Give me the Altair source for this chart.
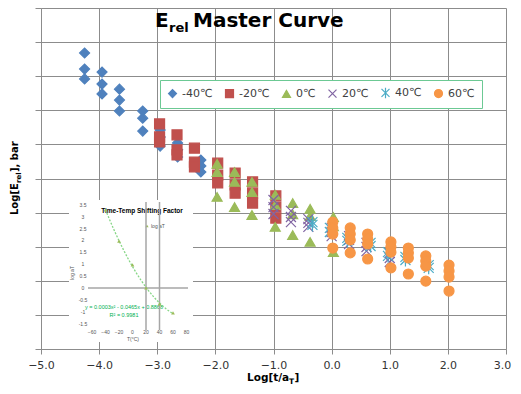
import altair as alt
import pandas as pd

# ---------------- data ----------------
SERIES = ["-40℃", "-20℃", "0℃", "20℃", "40℃", "60℃"]
COLORS = ["#4F81BD", "#C0504D", "#9BBB59", "#8064A2", "#4BACC6", "#F79646"]
X_PATH = "M-1,-1L1,1M-1,1L1,-1"
AST_PATH = "M-1,-1L1,1M-1,1L1,-1M0,-1.3L0,1.3"
SHAPES = ["diamond", "square", "triangle-up", X_PATH, AST_PATH, "circle"]

M40_X = [-4.25, -3.95, -3.65, -3.25, -2.95, -2.65, -2.25]
M40_Y = [[8.68, 8.21, 7.92], [8.12, 7.77, 7.48], [7.62, 7.30, 6.98], [6.98, 6.77, 6.39],
         [6.42, 6.22, 5.95], [6.04, 5.84, 5.63], [5.54, 5.37, 5.19]]
M20_X = [-2.96, -2.66, -2.36, -1.96, -1.66, -1.36, -0.96]
M20_Y = [[6.60, 6.22, 6.07], [6.28, 5.84, 5.69], [5.89, 5.48, 5.34], [5.45, 5.10, 4.87],
         [5.16, 4.81, 4.57], [4.90, 4.57, 4.28], [4.49, 4.16, 3.84]]
P0_X = [-1.97, -1.67, -1.37, -0.97, -0.67, -0.37, 0.03]
P0_Y = [[5.43, 5.19, 4.46], [5.19, 4.90, 4.16], [4.90, 4.60, 3.93], [4.52, 4.22, 3.58],
        [4.28, 3.95, 3.34], [4.11, 3.90, 3.14], [3.87, 3.60, 2.84]]
P20_X = [-1.0, -0.7, -0.4, 0.0, 0.3, 0.6, 1.0]
P20_Y = [[4.37, 4.16, 3.96], [4.05, 3.87, 3.72], [3.81, 3.70, 3.58], [3.55, 3.43, 3.31],
         [3.31, 3.20, 3.08], [3.11, 2.99, 2.87], [2.82, 2.67, 2.55]]
P40_X = [-0.33, -0.03, 0.27, 0.67, 0.97, 1.27, 1.67]
P40_Y = [[3.72, 3.64], [3.55, 3.43], [3.26, 3.17], [3.11, 3.02], [2.84, 2.73],
         [2.70, 2.61], [2.46, 2.38]]
P60_X = [0.02, 0.32, 0.62, 1.02, 1.32, 1.62, 2.02]
P60_Y = [[3.72, 3.55, 3.37, 2.96], [3.55, 3.37, 3.20, 2.82], [3.37, 3.23, 3.08, 2.64],
         [3.14, 2.99, 2.84, 2.38], [2.96, 2.82, 2.67, 2.20], [2.73, 2.58, 2.43, 1.99],
         [2.46, 2.29, 2.11, 1.70]]

X_TICKS = [-5, -4, -3, -2, -1, 0, 1, 2, 3]
Y_TICKS = list(range(0, 11))

# inset: time-temperature shift factor
INSET_T = [-40, -20, 0, 20, 40, 60]
INSET_LOGAT = [3.28, 1.97, 0.97, 0.0, -0.67, -1.05]
INSET_YTICKS = [3.5, 3.0, 2.5, 2.0, 1.5, 1.0, 0.5, 0.0, -0.5, -1.0, -1.5]
INSET_YLABELS = ["3.5", "3", "2.5", "2", "1.5", "1", "0.5", "0", "-0.5", "-1", "-1.5"]
INSET_XTICKS = [-60, -40, -20, 0, 20, 40, 60, 80]
INSET_VLINES = [20, 40]

# ---------------- build tables ----------------
rows = []
for name, xs, ys in zip(SERIES, [M40_X, M20_X, P0_X, P20_X, P40_X, P60_X],
                        [M40_Y, M20_Y, P0_Y, P20_Y, P40_Y, P60_Y]):
    for xv, yl in zip(xs, ys):
        for yv in yl:
            rows.append({"series": name, "x": xv, "y": yv})
main_df = pd.DataFrame(rows)
inset_df = pd.DataFrame({"T": INSET_T, "logaT": INSET_LOGAT})
one = pd.DataFrame({"a": [0]})

FONT = "DejaVu Sans"
GRID = "#8c8c8c"

xs_main = alt.Scale(domain=[-5, 3], nice=False)
ys_main = alt.Scale(domain=[0, 10], nice=False)

points = alt.Chart(main_df).mark_point(filled=True, size=100, strokeWidth=1.2, opacity=1).encode(
    x=alt.X("x:Q", scale=xs_main,
            axis=alt.Axis(values=X_TICKS, format=".1f", grid=True, gridColor=GRID, gridWidth=1,
                          domainColor=GRID, tickColor=GRID, tickSize=5, labelFont=FONT,
                          labelFontSize=11, labelColor="#333333", labelPadding=5,
                          labelFlush=False, title=None,
                          labelOffset={"condition": {"test": "datum.value == 3", "value": -4},
                                       "value": 0})),
    y=alt.Y("y:Q", scale=ys_main,
            axis=alt.Axis(values=Y_TICKS, labels=False, grid=True, gridColor=GRID, gridWidth=1,
                          domainColor=GRID, tickColor=GRID, tickSize=6, title=None)),
    fill=alt.Fill("series:N", scale=alt.Scale(domain=SERIES, range=COLORS),
                  legend=alt.Legend(title=None, orient="none", legendX=119, legendY=72,
                                    direction="horizontal", strokeColor="#6cc994",
                                    fillColor="white", padding=7, symbolSize=64,
                                    labelFont=FONT, labelFontSize=11, labelColor="#404040",
                                    columnPadding=10, labelOffset=4, symbolStrokeWidth=1.2)),
    stroke=alt.Stroke("series:N", scale=alt.Scale(domain=SERIES, range=COLORS)),
    shape=alt.Shape("series:N", scale=alt.Scale(domain=SERIES, range=SHAPES)),
)

white_box = alt.Chart(one).mark_rect(color="white").encode(
    x=alt.value(28), x2=alt.value(152), y=alt.value(192), y2=alt.value(334))

def txt(s, x, y, size, weight="normal", color="black", font=FONT, align="left", angle=0):
    kw = dict(text=s, fontSize=size, fontWeight=weight, color=color, font=font,
              align=align, baseline="alphabetic")
    if angle:
        kw["angle"] = angle
    return alt.Chart(one).mark_text(**kw).encode(x=alt.value(x), y=alt.value(y))

titles = [
    txt("E", 114, 19, 20, "bold"),
    txt("rel", 128, 24, 13, "bold"),
    txt("Master Curve", 152, 19, 20, "bold"),
    txt("Log[t/a", 206, 373, 10.5, "bold"),
    txt("T", 248, 376, 7.5, "bold"),
    txt("]", 253.5, 373, 10.5, "bold"),
    txt("Log[E", -23, 207, 10, "bold", angle=270),
    txt("rel", -20, 175, 7, "bold", angle=270),
    txt("],  bar", -23, 164, 10, "bold", angle=270),
    # inset decorations
    txt("Time-Temp Shifting Factor", 101, 205, 6.5, "bold", font="Liberation Sans", align="center"),
    txt("y = 0.0003x² - 0.0465x + 0.8868", 83, 301, 5.5, color="#00B050",
        font="Liberation Sans", align="center"),
    txt("R² = 0.9981", 83, 309, 5.5, color="#00B050", font="Liberation Sans", align="center"),
    txt("log aT", 110, 220, 5, color="#555555", font="Liberation Sans"),
    txt("log aT", 33, 265, 5, color="#555555", font="Liberation Sans", align="center", angle=270),
    txt("T(°C)", 92, 333, 5, color="#555555", font="Liberation Sans", align="center"),
]
inset_leg_marker = alt.Chart(one).mark_point(shape="triangle-up", filled=True, size=10,
                                             color="#9BBB59", opacity=1).encode(
    x=alt.value(106), y=alt.value(218))

main = alt.layer(white_box, points, inset_leg_marker, *titles)

# ---------------- inset layers (own scales, pixel ranges) ----------------
ix = alt.Scale(domain=[-60, 80], range=[51, 145.5], nice=False)
iy = alt.Scale(domain=[-1.5, 3.5], range=[315.7, 196.7], nice=False)

inset_vlines = alt.Chart(pd.DataFrame({"T": INSET_VLINES})).mark_rule(
    color="#a6a6a6", strokeWidth=1.5).encode(
    x=alt.X("T:Q", scale=ix, axis=None), y=alt.value(194), y2=alt.value(322))
inset_hline = alt.Chart(pd.DataFrame({"v": [0.0]})).mark_rule(
    color="#a6a6a6", strokeWidth=1.5).encode(
    y=alt.Y("v:Q", scale=iy, axis=None), x=alt.value(47), x2=alt.value(147))
inset_trend = alt.Chart(inset_df).transform_regression(
    "T", "logaT", method="poly", order=2, extent=[-40, 60]).mark_line(
    color="#86d686", strokeDash=[2, 1.5], strokeWidth=1.3).encode(
    x=alt.X("T:Q", scale=ix, axis=None), y=alt.Y("logaT:Q", scale=iy, axis=None))
inset_pts = alt.Chart(inset_df).mark_point(shape="triangle-up", filled=True, size=14,
                                           color="#9BBB59", opacity=1).encode(
    x=alt.X("T:Q", scale=ix, axis=None), y=alt.Y("logaT:Q", scale=iy, axis=None))
inset_ylab = alt.Chart(pd.DataFrame({"v": INSET_YTICKS, "lab": INSET_YLABELS})).mark_text(
    fontSize=5, color="#555555", font="Liberation Sans", align="center", baseline="middle").encode(
    x=alt.value(42), y=alt.Y("v:Q", scale=iy, axis=None), text="lab:N")
inset_xlab = alt.Chart(pd.DataFrame({"v": INSET_XTICKS})).mark_text(
    fontSize=5, color="#555555", font="Liberation Sans", align="center", baseline="middle").encode(
    y=alt.value(324), x=alt.X("v:Q", scale=ix, axis=None), text=alt.Text("v:Q", format="d"))

inset = alt.layer(inset_vlines, inset_hline, inset_trend, inset_pts, inset_ylab, inset_xlab)

chart = alt.layer(main, inset).resolve_scale(x="independent", y="independent").properties(
    width=465, height=341,
    padding={"left": 33, "top": 0, "right": 7, "bottom": 37},
    autosize="none",
).configure_view(stroke=None)

chart.save("out.html", embed_options={"renderer": "svg", "actions": False})
